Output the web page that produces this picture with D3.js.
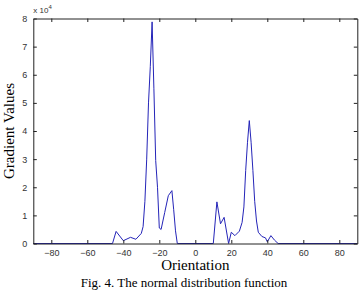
<!DOCTYPE html>
<html>
<head>
<meta charset="utf-8">
<script src="https://cdnjs.cloudflare.com/ajax/libs/d3/7.8.5/d3.min.js"></script>
<style>
  body { margin: 0; background: #fff; }
  svg { display: block; }
  .tick text { font-family: "Liberation Sans", Arial, sans-serif; font-size: 9px; fill: #333; }
</style>
</head>
<body>
<script>
// orientation (degrees) and gradient values (x 10^4)
var angles = [-90, -46, -44, -40, -36, -33, -30, -29, -28, -27, -26, -25, -24, -23, -22, -21, -20, -19, -17, -15, -13, -12, -11, -10,
              10, 12, 14, 16, 18.5, 20, 22, 24.5, 26, 27, 28, 29, 30, 31, 32, 33, 34, 35, 37, 39, 40, 42, 44, 46, 90];
var values = [0, 0, 0.43, 0.1, 0.22, 0.15, 0.36, 0.6, 1.5, 3.0, 5.0, 6.3, 7.88, 5.5, 2.95, 2.0, 0.55, 0.5, 1.1, 1.7, 1.88, 1.2, 0.45, 0,
              0, 1.48, 0.7, 0.93, 0, 0.4, 0.28, 0.44, 0.75, 1.3, 2.6, 3.6, 4.37, 3.6, 2.6, 1.5, 0.8, 0.4, 0.25, 0.2, 0.06, 0.28, 0.12, 0, 0];
var xTicks = [-80, -60, -40, -20, 0, 20, 40, 60, 80];
var yTicks = [0, 1, 2, 3, 4, 5, 6, 7, 8];

var w = 362, h = 290;
var pad = { left: 33.3, right: 4.7, top: 18.5, bottom: 46.5 };

var svg = d3.select("body").append("svg")
  .attr("width", w)
  .attr("height", h);

var x = d3.scaleLinear().domain([-90, 90]).range([pad.left, w - pad.right]);
var y = d3.scaleLinear().domain([0, 8]).range([h - pad.bottom, pad.top]);

var data = angles.map(function (a, i) { return [a, values[i]]; });

// curve
svg.append("path")
  .datum(data)
  .attr("fill", "none")
  .attr("stroke", "#2424b8")
  .attr("stroke-width", 1)
  .attr("d", d3.line().x(function (d) { return x(d[0]); }).y(function (d) { return y(d[1]); }));

// axes, ticks pointing inward like the original
var tickLen = 3.5;
svg.append("g")
  .attr("transform", "translate(0," + y(0) + ")")
  .call(d3.axisBottom(x).tickValues(xTicks).tickSizeInner(-tickLen).tickSizeOuter(0).tickPadding(6));
svg.append("g")
  .attr("transform", "translate(0," + y(8) + ")")
  .call(d3.axisTop(x).tickValues(xTicks).tickSizeInner(-tickLen).tickSizeOuter(0).tickFormat(""));
svg.append("g")
  .attr("transform", "translate(" + x(-90) + ",0)")
  .call(d3.axisLeft(y).tickValues(yTicks).tickSizeInner(-tickLen).tickSizeOuter(0).tickPadding(6));
svg.append("g")
  .attr("transform", "translate(" + x(90) + ",0)")
  .call(d3.axisRight(y).tickValues(yTicks).tickSizeInner(-tickLen).tickSizeOuter(0).tickFormat(""));

svg.selectAll(".domain").attr("stroke", "#222");
svg.selectAll(".tick line").attr("stroke", "#222");

// exponent label
var expo = svg.append("text")
  .attr("x", x(-90))
  .attr("y", y(8) - 6)
  .attr("font-family", "Liberation Sans, Arial, sans-serif")
  .attr("font-size", 8)
  .attr("fill", "#333");
expo.append("tspan").text("x 10");
expo.append("tspan").attr("dy", -4).attr("font-size", 6).text("4");

// axis titles
svg.append("text")
  .attr("x", (x(-90) + x(90)) / 2)
  .attr("y", 270)
  .attr("text-anchor", "middle")
  .attr("font-family", "Liberation Serif, Times New Roman, serif")
  .attr("font-size", 15)
  .text("Orientation");

svg.append("text")
  .attr("transform", "translate(14," + y(4) + ") rotate(-90)")
  .attr("text-anchor", "middle")
  .attr("font-family", "Liberation Serif, Times New Roman, serif")
  .attr("font-size", 15)
  .text("Gradient Values");

// caption
svg.append("text")
  .attr("x", 184)
  .attr("y", 287)
  .attr("text-anchor", "middle")
  .attr("font-family", "Liberation Serif, Times New Roman, serif")
  .attr("font-size", 13)
  .text("Fig. 4. The normal distribution function");
</script>
</body>
</html>
